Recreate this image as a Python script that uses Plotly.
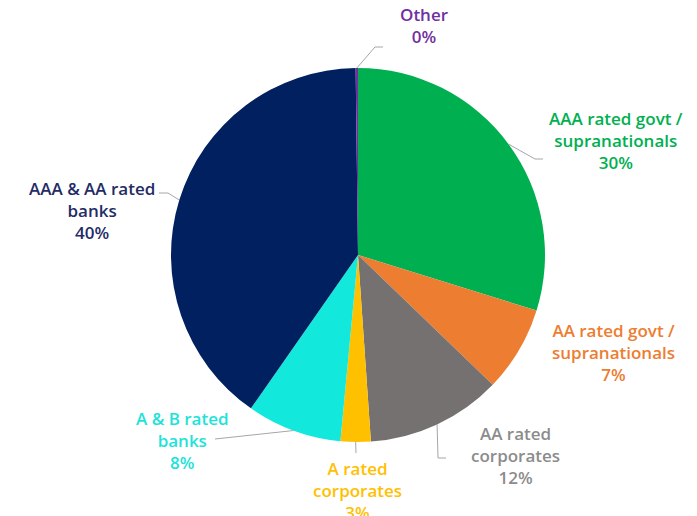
import math
import plotly.graph_objects as go

# ---- data ----
categories = ["AAA rated govt /<br>supranationals", "AA rated govt /<br>supranationals",
              "AA rated<br>corporates", "A rated<br>corporates", "A & B rated<br>banks",
              "AAA & AA rated<br>banks", "Other"]
values = [29.8, 7.4, 11.7, 2.6, 8.2, 40.1, 0.2]

# ---- styles ----
slice_colors = ["#00B050", "#ED7D31", "#767171", "#FFC000", "#12E8DC", "#002060", "#7030A0"]
text_colors = ["#00B050", "#ED7D31", "#8C8C8C", "#FFC000", "#1DE3D8", "#1F2C66", "#7030A0"]

W, H = 697, 516
OFF = 8  # page body margin in the browser
CX, CY, R = 358, 255, 187  # pie centre / radius in window pixels

# label layout (window pixel centres) and leader paths (after start point at slice edge)
label_pos = [(616, 140), (613, 352), (515, 455), (357, 490), (182, 440), (92, 210), (424, 26)]
leader_pts = [[(535, 159), (543, 159)], None, [(438, 458), (446, 458)], [(356, 453)],
              [(215, 439)], [(168, 193), (159, 193)], [(375, 47), (383, 47)]]


def px(x):
    return (x - OFF) / W


def py(y):
    return 1 - (y - OFF) / H


fig = go.Figure(go.Pie(
    labels=[c.replace("<br>", " ") for c in categories],
    values=values,
    sort=False,
    direction="clockwise",
    rotation=0,
    marker=dict(colors=slice_colors, line=dict(width=0)),
    textinfo="none",
    hoverinfo="label+percent",
    showlegend=False,
    domain=dict(x=[px(CX - R), px(CX + R)], y=[py(CY + R), py(CY - R)]),
))

total = sum(values)
cum = 0
annotations = []
shapes = []
for i, v in enumerate(values):
    theta = 2 * math.pi * (cum + v / 2) / total
    cum += v
    sx = CX + R * math.sin(theta)
    sy = CY - R * math.cos(theta)
    lx, ly = label_pos[i]
    annotations.append(dict(
        x=px(lx), y=py(ly), xref="paper", yref="paper",
        text=f"{categories[i]}<br>{round(v / total * 100)}%",
        showarrow=False, xanchor="center", yanchor="middle", align="center",
        font=dict(family="Open Sans", size=17, color=text_colors[i], weight=600),
    ))
    if leader_pts[i]:
        path = f"M {px(sx)},{py(sy)}" + "".join(f" L {px(a)},{py(b)}" for a, b in leader_pts[i])
        shapes.append(dict(type="path", path=path, xref="paper", yref="paper",
                           line=dict(color="#A6A6A6", width=1)))

fig.update_layout(
    width=W, height=H,
    margin=dict(l=0, r=0, t=0, b=0),
    paper_bgcolor="white",
    plot_bgcolor="white",
    annotations=annotations,
    shapes=shapes,
)

fig.write_html("out.html")
